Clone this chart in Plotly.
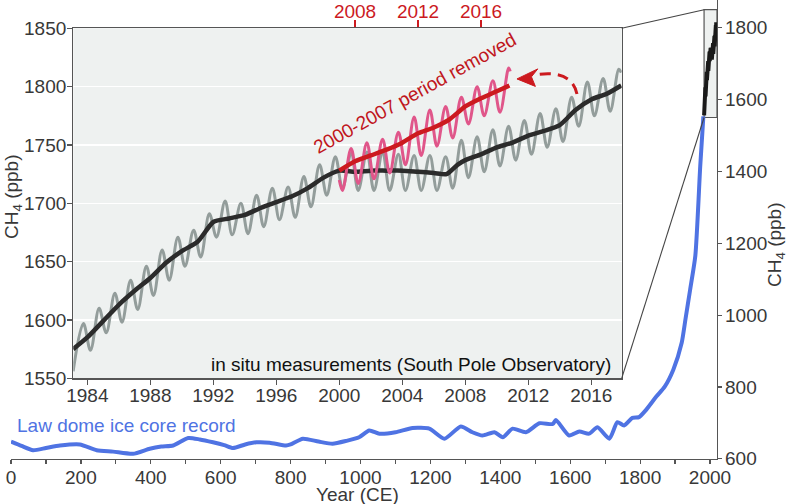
import plotly.graph_objects as go

# ---------------- data ----------------
# Law Dome ice core record (year CE, ppb)
law_years = [0, 30, 63, 100, 140, 197, 245, 292, 349, 397, 430, 464, 507, 540, 578, 610, 635, 670,
             702, 740, 787, 800, 835, 880, 920, 960, 996, 1025, 1054, 1100, 1149, 1197, 1240, 1287,
             1320, 1349, 1383, 1407, 1435, 1473, 1512, 1550, 1559, 1597, 1626, 1654, 1678, 1712,
             1735, 1754, 1778, 1797, 1816, 1847, 1870, 1895, 1919, 1930, 1943, 1958, 1972, 1981]
law_ppb = [648, 636, 624, 630, 637, 640, 624, 620, 614, 628, 634, 637, 658, 654, 646, 638, 630, 640,
           646, 645, 637, 640, 656, 648, 642, 650, 660, 679, 670, 674, 686, 684, 656, 690,
           674, 665, 674, 660, 684, 674, 699, 697, 708, 665, 676, 670, 688, 656,
           702, 693, 714, 716, 735, 774, 800, 848, 923, 990, 1070, 1165, 1414, 1553]

# South Pole in situ record (seasonal cycle: peaks and troughs)
insitu_t = [1983.1, 1983.75, 1984.2, 1984.75, 1985.2, 1985.75, 1986.2, 1986.75, 1987.2, 1987.75,
            1988.2, 1988.75, 1989.2, 1989.75, 1990.2, 1990.75, 1991.2, 1991.75, 1992.2, 1992.75,
            1993.2, 1993.75, 1994.2, 1994.75, 1995.2, 1995.75, 1996.2, 1996.75, 1997.2, 1997.75,
            1998.2, 1998.75, 1999.2, 1999.75, 2000.2, 2000.75, 2001.2, 2001.75, 2002.2, 2002.75,
            2003.2, 2003.75, 2004.2, 2004.75, 2005.2, 2005.75, 2006.2, 2006.75, 2007.2, 2007.75,
            2008.2, 2008.75, 2009.2, 2009.75, 2010.2, 2010.75, 2011.2, 2011.75, 2012.2, 2012.75,
            2013.2, 2013.75, 2014.2, 2014.75, 2015.2, 2015.75, 2016.2, 2016.75, 2017.2, 2017.75,
            2017.9]
insitu_ppb = [1556, 1597, 1574, 1610, 1589, 1623, 1598, 1634, 1609, 1646,
              1621, 1660, 1634, 1671, 1646, 1677, 1654, 1691, 1671, 1702,
              1673, 1700, 1674, 1707, 1680, 1713, 1686, 1714, 1688, 1723,
              1697, 1733, 1707, 1740, 1713, 1743, 1711, 1744, 1711, 1744,
              1711, 1742, 1711, 1741, 1711, 1741, 1711, 1740, 1713, 1754,
              1722, 1757, 1727, 1763, 1732, 1766, 1737, 1771, 1742, 1777,
              1748, 1781, 1753, 1791, 1766, 1804, 1775, 1807, 1779, 1815,
              1812]

# deseasonalised trend
trend_t = [1983.1, 1984, 1985, 1986, 1987, 1988, 1989, 1990, 1991, 1992, 1993, 1994, 1995, 1996,
           1997, 1998, 1999, 2000, 2001, 2002, 2003, 2004, 2005, 2006, 2006.8, 2007.5, 2008,
           2009, 2010, 2011, 2012, 2013, 2014, 2015, 2016, 2017, 2017.9]
trend_ppb = [1575, 1585, 1599, 1613, 1625, 1636, 1649, 1659, 1667, 1684, 1687, 1690, 1696, 1701,
             1706, 1713, 1722, 1728, 1727, 1728, 1728, 1728, 1727, 1726, 1725, 1733, 1737,
             1742, 1748, 1752, 1758, 1762, 1767, 1780, 1789, 1794, 1801]

# 2008-2017 record with the 2000-2007 period removed (plotted against top axis years)
shift_t = [2007.0, 2007.2, 2007.75, 2008.2, 2008.75, 2009.2, 2009.75, 2010.2, 2010.75, 2011.2,
           2011.75, 2012.2, 2012.75, 2013.2, 2013.75, 2014.2, 2014.75, 2015.2, 2015.75, 2016.2,
           2016.75, 2017.2, 2017.75, 2017.85]
shift_ppb = [1720, 1711, 1747, 1717, 1752, 1721, 1755, 1726, 1761, 1733,
             1774, 1741, 1780, 1749, 1783, 1756, 1791, 1768, 1800, 1775,
             1805, 1778, 1816, 1813]
shift_trend_t = [2007.0, 2008, 2009, 2010, 2011, 2012, 2013, 2014, 2015, 2016, 2017, 2017.8]
shift_trend_ppb = [1728, 1736, 1741, 1746, 1752, 1760, 1765, 1772, 1783, 1790, 1796, 1801]

main_xticks = [0, 200, 400, 600, 800, 1000, 1200, 1400, 1600, 1800, 2000]
main_yticks = [600, 800, 1000, 1200, 1400, 1600, 1800]
inset_xticks = [1984, 1988, 1992, 1996, 2000, 2004, 2008, 2012, 2016]
inset_yticks = [1550, 1600, 1650, 1700, 1750, 1800, 1850]
top_xticks = [2008, 2012, 2016]

# ---------------- layout geometry ----------------
W, H = 796, 504
L, R, T, B = 11, 79, 0, 45
PW, PH = W - L - R, H - T - B
MAIN_X = [0, 2020]
MAIN_Y = [599.5, 1877]
IN_X = [1983.11, 2017.93]
IN_Y = [1550, 1850]
SHIFT = 7
TOP_X = [IN_X[0] + SHIFT, IN_X[1] + SHIFT]


def px(x, y):
    return (x - L) / PW, 1 - (y - T) / PH


in_x0, in_y1 = px(73.3, 28.3)
in_x1, in_y0 = px(621.7, 378.3)

FONT = "Liberation Sans, Arial, sans-serif"
FS = 19
TXT = "#383838"
AX = "#555555"
BLUE = "#4f73e3"
GRAY = "#939d9b"
DARK = "#2b2b2b"
RED = "#cc1a1f"
PINK = "#e0568a"
BG = "#eef1f0"

fig = go.Figure()
# main panel
fig.add_trace(go.Scatter(x=law_years, y=law_ppb, mode="lines", xaxis="x", yaxis="y",
                         line=dict(color=BLUE, width=4, shape="spline", smoothing=0.6),
                         hoverinfo="skip", showlegend=False))
fig.add_trace(go.Scatter(x=insitu_t, y=insitu_ppb, mode="lines", xaxis="x", yaxis="y",
                         line=dict(color="#1a1a1a", width=4), hoverinfo="skip", showlegend=False))
# inset
fig.add_trace(go.Scatter(x=insitu_t, y=insitu_ppb, mode="lines", xaxis="x2", yaxis="y2",
                         line=dict(color=GRAY, width=3, shape="spline", smoothing=1.0),
                         hoverinfo="skip", showlegend=False))
fig.add_trace(go.Scatter(x=trend_t, y=trend_ppb, mode="lines", xaxis="x2", yaxis="y2",
                         line=dict(color=DARK, width=4.5, shape="spline", smoothing=0.6),
                         hoverinfo="skip", showlegend=False))
fig.add_trace(go.Scatter(x=shift_t, y=shift_ppb, mode="lines", xaxis="x3", yaxis="y2",
                         line=dict(color=PINK, width=3, shape="spline", smoothing=1.0),
                         hoverinfo="skip", showlegend=False))
fig.add_trace(go.Scatter(x=shift_trend_t, y=shift_trend_ppb, mode="lines", xaxis="x3", yaxis="y2",
                         line=dict(color=RED, width=4.5, shape="spline", smoothing=0.6),
                         hoverinfo="skip", showlegend=False))

tickfont = dict(family=FONT, size=FS, color=TXT)
fig.update_layout(
    width=W, height=H, margin=dict(l=L, r=R, t=T, b=B, pad=0),
    paper_bgcolor="white", plot_bgcolor="rgba(0,0,0,0)", template="none",
    font=dict(family=FONT, size=FS, color=TXT), hovermode=False,
    xaxis=dict(domain=[0, 1], range=MAIN_X, anchor="y", tickvals=main_xticks,
               ticks="outside", ticklen=4, tickcolor=AX, tickwidth=1.2, showline=True, linecolor=AX,
               minor=dict(dtick=100, tick0=0, ticks="outside", ticklen=4, tickcolor=AX, tickwidth=1.2),
               linewidth=1.2, showgrid=False, zeroline=False, tickfont=tickfont,
               ticklabelstandoff=-3),
    yaxis=dict(domain=[0, 1], range=MAIN_Y, anchor="x", side="right", tickvals=main_yticks,
               ticks="outside", ticklen=4, tickcolor=AX, tickwidth=1.2, showline=True, linecolor=AX,
               linewidth=1.2, showgrid=False, zeroline=False, tickfont=tickfont,
               ticklabelstandoff=-1),
    xaxis2=dict(domain=[in_x0, in_x1], range=IN_X, anchor="y2", tickvals=inset_xticks,
                ticks="outside", ticklen=5, tickcolor=AX, tickwidth=1.2, showline=True, mirror=True,
                linecolor=AX, linewidth=1.2, showgrid=False, zeroline=False, tickfont=tickfont,
                ticklabelstandoff=-5),
    yaxis2=dict(domain=[in_y0, in_y1], range=IN_Y, anchor="x2", tickvals=inset_yticks,
                ticks="outside", ticklen=5, tickcolor=AX, tickwidth=1.2, showline=True, mirror=True,
                linecolor=AX, linewidth=1.2, showgrid=True, gridcolor="white", gridwidth=1.5,
                zeroline=False, tickfont=tickfont, ticklabelstandoff=-3),
    xaxis3=dict(range=TOP_X, overlaying="x2", anchor="y2", side="top", tickvals=top_xticks,
                ticks="outside", ticklen=7, tickcolor=RED, tickwidth=2, showline=False,
                showgrid=False, zeroline=False, tickfont=dict(family=FONT, size=FS, color=RED),
                ticklabelstandoff=-5),
)

# background of inset and zoom box on main panel
box_x0 = 1983
box_px0 = (box_x0 - MAIN_X[0]) / (MAIN_X[1] - MAIN_X[0])
box_py1 = (IN_Y[1] - MAIN_Y[0]) / (MAIN_Y[1] - MAIN_Y[0])
box_py0 = (IN_Y[0] - MAIN_Y[0]) / (MAIN_Y[1] - MAIN_Y[0])
shapes = [
    dict(type="rect", xref="paper", yref="paper", x0=in_x0, x1=in_x1, y0=in_y0, y1=in_y1,
         fillcolor=BG, line=dict(width=0), layer="below"),
    dict(type="rect", xref="x", yref="y", x0=box_x0, x1=MAIN_X[1], y0=IN_Y[0], y1=IN_Y[1],
         fillcolor=BG, line=dict(color=AX, width=1.2), layer="below"),
    dict(type="line", xref="paper", yref="paper", x0=in_x1, y0=in_y1, x1=box_px0, y1=box_py1,
         line=dict(color="#444444", width=1.1)),
    dict(type="line", xref="paper", yref="paper", x0=in_x1, y0=in_y0, x1=box_px0, y1=box_py0,
         line=dict(color="#444444", width=1.1)),
    # dashed curved arrow
    dict(type="path", xref="x2", yref="y2",
         path="M 2015.09,1793.7 Q 2014.77,1814.3 2012.6,1810.4",
         line=dict(color=RED, width=3, dash="11px,7px")),
    # arrow head
    dict(type="path", xref="x2", yref="y2",
         path="M 2011.28,1806.6 L 2012.6,1815.2 L 2012.2,1808.4 L 2012.45,1800.2 Z",
         fillcolor=RED, line=dict(color=RED, width=1)),
]
fig.update_layout(shapes=shapes)

ann = []


def add_text(text, x, y, color=TXT, xanchor="center", angle=0, size=FS):
    xp, yp = px(x, y)
    ann.append(dict(text=text, x=xp, y=yp, xref="paper", yref="paper", showarrow=False,
                    xanchor=xanchor, yanchor="middle", textangle=angle,
                    font=dict(family=FONT, size=size, color=color)))


add_text("CH<sub>4</sub> (ppb)", 13, 197, angle=-90)
add_text("CH<sub>4</sub> (ppb)", 776, 245, angle=-90)
add_text("Year (CE)", 357, 494)
add_text("in situ measurements (South Pole Observatory)", 613, 364, color="#111111", xanchor="right")
add_text("Law dome ice core record", 15, 425, color=BLUE, xanchor="left")
add_text("2000-2007 period removed", 414.6, 94, color="#c0161c", angle=-29)
fig.update_layout(annotations=ann)

fig.write_html("out.html", config={"displayModeBar": False, "staticPlot": True},
               post_script="document.body.style.margin='0px';")
